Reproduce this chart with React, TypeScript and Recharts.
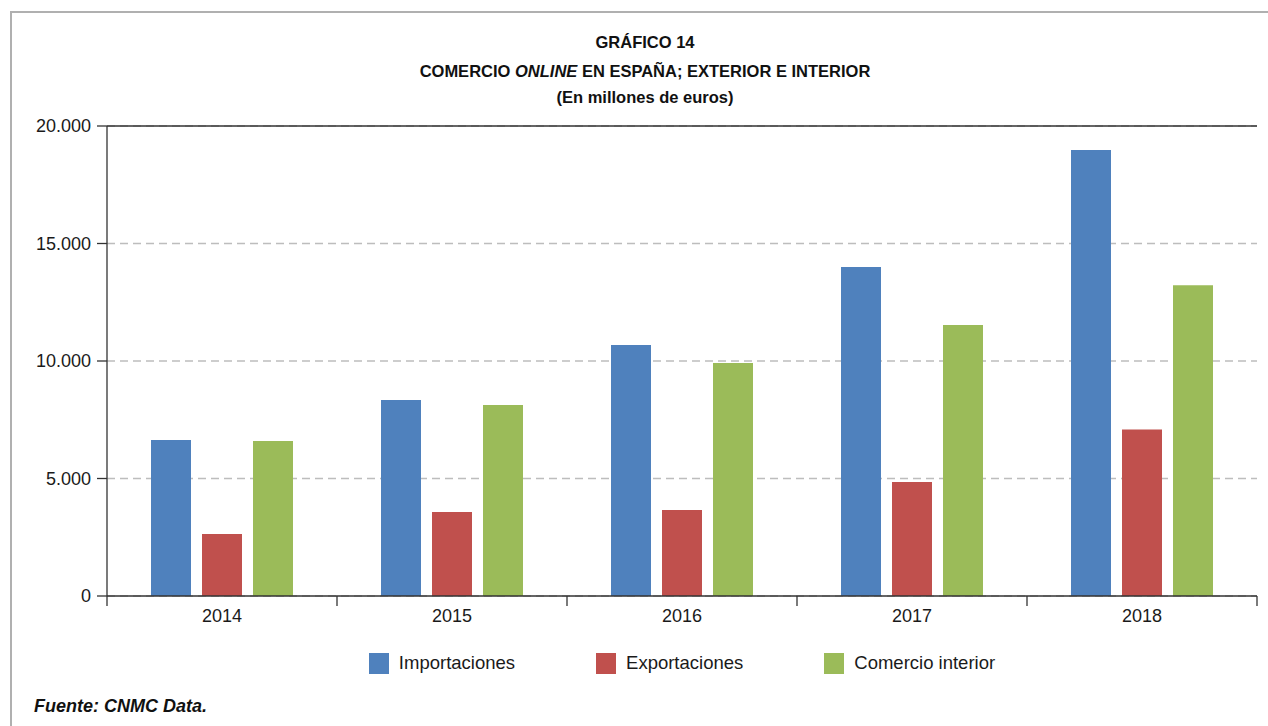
import React from 'react';
import { BarChart, Bar, XAxis, YAxis, CartesianGrid, ReferenceLine } from 'recharts';

const years = ['2014', '2015', '2016', '2017', '2018'];
const importaciones = [6640, 8340, 10680, 14000, 18980];
const exportaciones = [2640, 3570, 3660, 4850, 7090];
const comercioInterior = [6600, 8130, 9910, 11530, 13220];
const yTicks = [0, 5000, 10000, 15000, 20000];
const seriesKeys = ['imp', 'exp', 'com'];
const seriesNames = ['Importaciones', 'Exportaciones', 'Comercio interior'];
const seriesColors = ['#4F81BD', '#C0504D', '#9BBB59'];
const titleLines = ['GRÁFICO 14', '(En millones de euros)'];
const sourceText = 'Fuente: CNMC Data.';

const data = years.map((y, i) => ({
  year: y,
  imp: importaciones[i],
  exp: exportaciones[i],
  com: comercioInterior[i],
}));

const FONT = '"Liberation Sans", Arial, Helvetica, sans-serif';
const AXIS = '#333333';

const fmt = (v: number) => String(v).replace(/\B(?=(\d{3})+(?!\d))/g, '.');

const XTick = (props: any) => {
  const { x, y, payload, index, visibleTicksCount, width } = props;
  const band = width / visibleTicksCount;
  const left = x - band / 2;
  const right = x + band / 2;
  return (
    <g>
      <line x1={left} x2={left} y1={y} y2={y + 10} stroke={AXIS} strokeWidth={1.3} />
      {index === visibleTicksCount - 1 && (
        <line x1={right} x2={right} y1={y} y2={y + 10} stroke={AXIS} strokeWidth={1.3} />
      )}
      <text x={x} y={y + 20} textAnchor="middle" dominantBaseline="central" fill="#1a1a1a" fontSize={18} fontFamily={FONT}>
        {payload.value}
      </text>
    </g>
  );
};

const titleStyle: React.CSSProperties = {
  position: 'absolute',
  left: 10,
  width: 1270,
  textAlign: 'center',
  fontWeight: 'bold',
  fontSize: 16.5,
  color: '#111',
  lineHeight: '20px',
};

export default function App() {
  return (
    <div style={{ position: 'absolute', left: 0, top: 0, width: 1268, height: 726, overflow: 'hidden', background: '#fff', fontFamily: FONT }}>
      <div style={{ position: 'absolute', left: 10, top: 11, width: 1400, height: 900, borderLeft: '2px solid #b0b0b0', borderTop: '2px solid #b0b0b0' }} />
      <div style={{ ...titleStyle, top: 32 }}>{titleLines[0]}</div>
      <div style={{ ...titleStyle, top: 61 }}>
        COMERCIO <i>ONLINE</i> EN ESPAÑA; EXTERIOR E INTERIOR
      </div>
      <div style={{ ...titleStyle, top: 87 }}>{titleLines[1]}</div>
      <div style={{ position: 'absolute', left: 0, top: 0 }}>
        <BarChart
          width={1268}
          height={726}
          data={data}
          margin={{ top: 126, right: 11, bottom: 100, left: 47 }}
          barSize={40}
          barGap={11}
        >
          <CartesianGrid yAxisId="left" vertical={false} stroke="#bdbdbd" strokeDasharray="8 5" strokeWidth={1.3} />
          <XAxis
            dataKey="year"
            yAxisId="left"
            height={30}
            axisLine={{ stroke: AXIS, strokeWidth: 1.3 }}
            tickLine={false}
            tickSize={0}
            tickMargin={0}
            tick={<XTick />}
            interval={0}
          />
          <YAxis
            yAxisId="left"
            width={60}
            domain={[0, 20000]}
            ticks={yTicks}
            tickFormatter={fmt}
            axisLine={{ stroke: AXIS, strokeWidth: 1.3 }}
            tickLine={{ stroke: AXIS, strokeWidth: 1.3 }}
            tickSize={10}
            tickMargin={6}
            tick={{ fill: '#1a1a1a', fontSize: 18, fontFamily: FONT }}
          />
          <YAxis
            yAxisId="right"
            orientation="right"
            width={0}
            domain={[0, 20000]}
            axisLine={{ stroke: AXIS, strokeWidth: 1.3 }}
            tickLine={false}
            tick={false}
          />
          <ReferenceLine yAxisId="left" y={20000} stroke={AXIS} strokeWidth={1.3} />
          {seriesKeys.map((k, i) => (
            <Bar key={k} yAxisId="left" dataKey={k} name={seriesNames[i]} fill={seriesColors[i]} isAnimationActive={false} />
          ))}
        </BarChart>
      </div>
      <div style={{ position: 'absolute', left: 107, width: 1150, top: 652, display: 'flex', justifyContent: 'center', alignItems: 'center', gap: 81 }}>
        {seriesNames.map((n, i) => (
          <div key={n} style={{ display: 'flex', alignItems: 'center' }}>
            <div style={{ width: 20, height: 21, background: seriesColors[i], marginRight: 10 }} />
            <span style={{ fontSize: 18.5, color: '#1a1a1a' }}>{n}</span>
          </div>
        ))}
      </div>
      <div style={{ position: 'absolute', left: 34, top: 696, fontSize: 18, lineHeight: '21px', fontWeight: 'bold', fontStyle: 'italic', color: '#111' }}>
        {sourceText}
      </div>
    </div>
  );
}
